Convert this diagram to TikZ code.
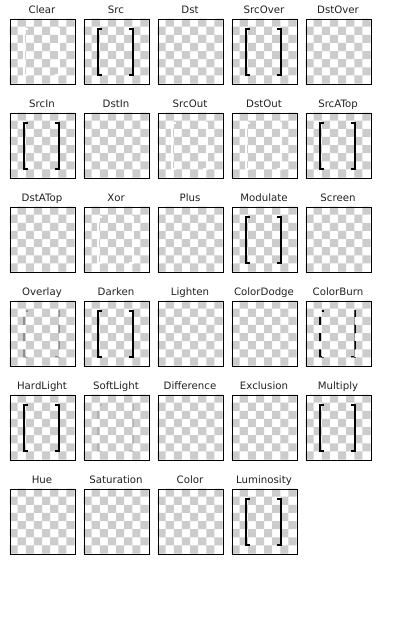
\documentclass[tikz,border=0pt]{standalone}
\usepackage{fontspec}
\setmainfont{DejaVu Sans}
\definecolor{chkgray}{HTML}{CCCCCC}
\definecolor{ovlgray}{HTML}{8E8E8E}
\definecolor{softgray}{HTML}{B2B2B2}
\definecolor{lbltext}{HTML}{222222}
\tikzset{
  boxframe/.style={draw=black, line width=1pt, minimum width=65pt, minimum height=65pt, inner sep=0pt, anchor=north west},
  lbl/.style={anchor=base, font=\fontsize{10.2}{12}\selectfont, text=lbltext, inner sep=0pt},
  brk/.style={line width=2pt, line cap=butt, line join=miter},
}
\newcommand\mybrackets[3]{%
  \draw[brk,#3] ({#1+18.5},{#2+10.8}) -- ({#1+14.5},{#2+10.8}) -- ({#1+14.5},{#2+56.2}) -- ({#1+18.5},{#2+56.2});
  \draw[brk,#3] ({#1+45.8},{#2+10.8}) -- ({#1+49.8},{#2+10.8}) -- ({#1+49.8},{#2+56.2}) -- ({#1+45.8},{#2+56.2});
}
\begin{document}
\begin{tikzpicture}[x=1pt,y=-1pt]
\useasboundingbox[fill=white] (0,0) rectangle (400,640);
\foreach \c/\r/\nm/\lab/\md in {
  0/0/clear/Clear/2, 1/0/src/Src/1, 2/0/dst/Dst/0, 3/0/srcover/SrcOver/1, 4/0/dstover/DstOver/0,
  0/1/srcin/SrcIn/1, 1/1/dstin/DstIn/0, 2/1/srcout/SrcOut/2, 3/1/dstout/DstOut/2, 4/1/srcatop/SrcATop/1,
  0/2/dstatop/DstATop/0, 1/2/xor/Xor/2, 2/2/plus/Plus/0, 3/2/modulate/Modulate/1, 4/2/screen/Screen/0,
  0/3/overlay/Overlay/3, 1/3/darken/Darken/1, 2/3/lighten/Lighten/0, 3/3/colordodge/ColorDodge/0, 4/3/colorburn/ColorBurn/4,
  0/4/hardlight/HardLight/1, 1/4/softlight/SoftLight/5, 2/4/difference/Difference/0, 3/4/exclusion/Exclusion/0, 4/4/multiply/Multiply/1,
  0/5/hue/Hue/0, 1/5/saturation/Saturation/0, 2/5/color/Color/0, 3/5/luminosity/Luminosity/1}
{
  \pgfmathsetmacro\bx{9.5+74*\c}
  \pgfmathsetmacro\by{18.5+94*\r}
  \fill[white] (\bx,\by) rectangle ++(65,65);
  \fill[chkgray] \foreach \i in {0,...,7}{ \foreach \j in {0,...,3}{ ({\bx+(2*\j+mod(\i+1,2))*8.125},{\by+\i*8.125}) rectangle ++(8.125,8.125) } };
  \ifcase\md\relax
  \or \mybrackets{\bx}{\by}{black}
  \or \mybrackets{\bx}{\by}{white}
  \or \begin{scope}
        \clip \foreach \i in {0,...,7}{ \foreach \j in {0,...,3}{ ({\bx+(2*\j+mod(\i+1,2))*8.125},{\by+\i*8.125}) rectangle ++(8.125,8.125) } };
        \mybrackets{\bx}{\by}{ovlgray}
      \end{scope}
  \or \begin{scope}
        \clip \foreach \i in {0,...,7}{ \foreach \j in {0,...,3}{ ({\bx+(2*\j+mod(\i+1,2))*8.125},{\by+\i*8.125}) rectangle ++(8.125,8.125) } };
        \mybrackets{\bx}{\by}{black}
      \end{scope}
  \or \begin{scope}
        \clip \foreach \i in {0,...,7}{ \foreach \j in {0,...,3}{ ({\bx+(2*\j+mod(\i+1,2))*8.125},{\by+\i*8.125}) rectangle ++(8.125,8.125) } };
        \mybrackets{\bx}{\by}{softgray}
      \end{scope}
  \fi
  \node[boxframe] (\nm) at (\bx,\by) {};
  \node[lbl] (\nm-label) at ({\bx+32.5},{\by-4.6}) {\lab};
}
\end{tikzpicture}
\end{document}
